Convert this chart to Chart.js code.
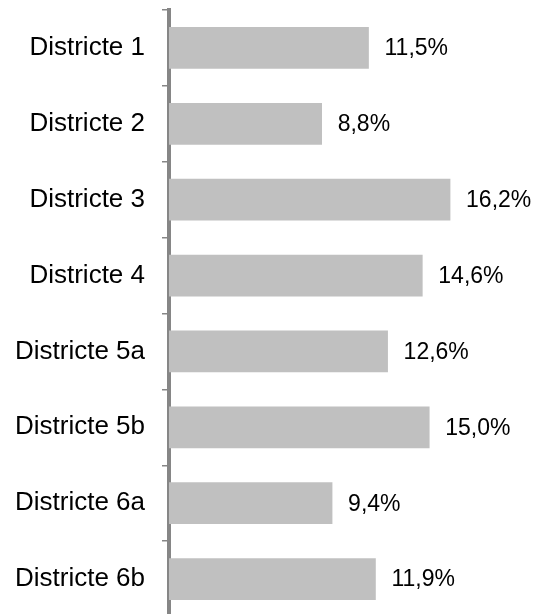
<!DOCTYPE html>
<html>
<head>
<meta charset="utf-8">
<script src="https://cdn.jsdelivr.net/npm/chart.js@4"></script>
<style>
  html, body { margin: 0; padding: 0; overflow: hidden; background: #fff; }
  #wrap { width: 537px; height: 620px; position: relative; }
</style>
</head>
<body>
<div id="wrap"><canvas id="c"></canvas></div>
<script>
const categories = ["Districte 1", "Districte 2", "Districte 3", "Districte 4", "Districte 5a", "Districte 5b", "Districte 6a", "Districte 6b"];
const values = [11.5, 8.8, 16.2, 14.6, 12.6, 15.0, 9.4, 11.9];
const xMin = 0;
const xMax = 20;

const valueLabels = {
  id: 'valueLabels',
  afterDatasetsDraw(chart) {
    const ctx = chart.ctx;
    const meta = chart.getDatasetMeta(0);
    ctx.save();
    ctx.font = '23px "Liberation Sans", Arial, sans-serif';
    ctx.fillStyle = '#000';
    ctx.textAlign = 'left';
    ctx.textBaseline = 'middle';
    meta.data.forEach((bar, i) => {
      const txt = values[i].toFixed(1).replace('.', ',') + '%';
      ctx.fillText(txt, bar.x + 16, bar.y + 1);
    });
    ctx.restore();
  }
};

new Chart(document.getElementById('c'), {
  type: 'bar',
  data: {
    labels: categories,
    datasets: [{
      data: values,
      backgroundColor: '#c0c0c0',
      borderWidth: 0,
      barThickness: 41
    }]
  },
  plugins: [valueLabels],
  options: {
    indexAxis: 'y',
    responsive: true,
    maintainAspectRatio: false,
    animation: false,
    layout: { padding: { left: 0, right: 21, top: 10, bottom: 3 } },
    plugins: { legend: { display: false }, tooltip: { enabled: false } },
    scales: {
      x: { display: false, min: xMin, max: xMax },
      y: {
        grid: {
          offset: true,
          drawOnChartArea: false,
          drawTicks: true,
          tickLength: 7,
          color: '#868686',
          lineWidth: 1.5
        },
        border: { display: true, color: '#868686', width: 4 },
        ticks: {
          padding: 17,
          color: '#000',
          font: { family: '"Liberation Sans", Arial, sans-serif', size: 26 }
        },
        afterFit(scale) {
          scale.width = 169;
          scale.paddingTop = 0;
          scale.paddingBottom = 0;
        }
      }
    }
  }
});
</script>
</body>
</html>
